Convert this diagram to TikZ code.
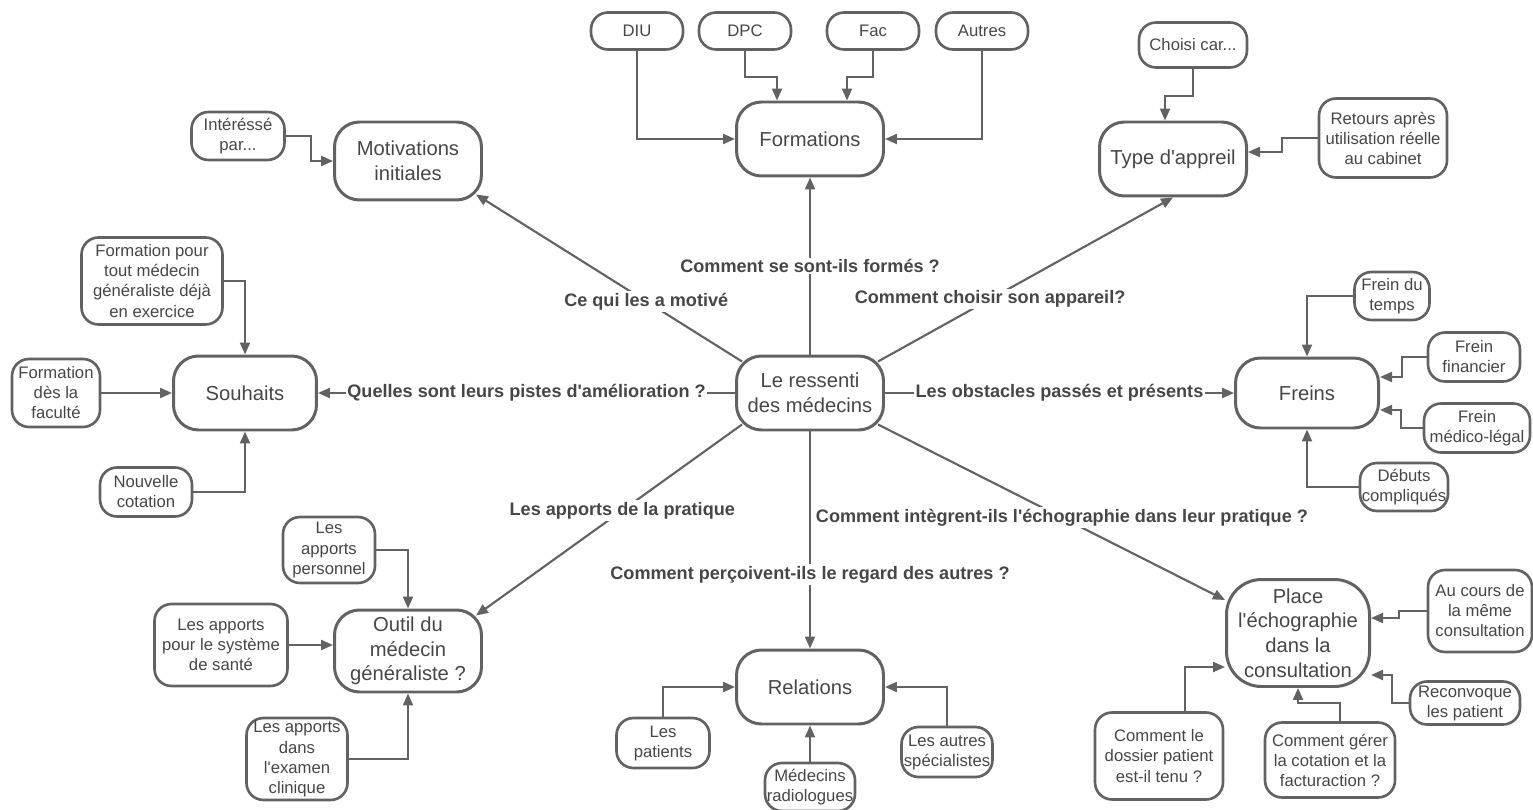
\documentclass[tikz,border=0pt]{standalone}
\usepackage{fontspec}
\setmainfont{Liberation Sans}
\usepackage{tikz}
\usetikzlibrary{arrows.meta, calc}

\definecolor{mapline}{HTML}{626262}
\definecolor{maptext}{HTML}{464646}

\tikzset{
  topic/.style={draw=mapline, line width=1.7pt, rounded corners=0.5cm, align=center, text=maptext,
    font=\fontsize{11.5}{14}\selectfont, minimum width=2.94cm, minimum height=1.48cm, inner sep=1pt},
  leaf/.style={draw=mapline, line width=1.5pt, rounded corners=0.34cm, align=center, text=maptext,
    font=\fontsize{9.5}{11.4}\selectfont, inner sep=0pt},
  link/.style={mapline, line width=1.2pt, -{Triangle[length=0.24cm,width=0.2cm]}},
  question/.style={fill=white, text=maptext, font=\bfseries\fontsize{10.3}{12}\selectfont, inner sep=1pt},
}

\begin{document}
\begin{tikzpicture}[x=0.02cm, y=-0.02cm]
        \useasboundingbox (0,0) rectangle (1533,810);

        \node[topic] (centre) at (810,393) {Le ressenti\\des médecins};
        \node[topic] (form) at (810,139) {Formations};
        \node[topic] (type) at (1173,159) {Type d\textquotesingle appreil};
        \node[topic, minimum height=1.56cm] (motiv) at (408,161) {Motivations\\initiales};
        \node[topic, minimum width=2.86cm] (souh) at (245,393) {Souhaits};
        \node[topic, minimum width=2.86cm, minimum height=1.4cm] (freins) at (1307,393) {Freins};
        \node[topic, minimum height=1.64cm] (outil) at (408,651) {Outil du\\médecin\\généraliste ?};
        \node[topic] (rel) at (810,687) {Relations};
        \node[topic, minimum width=2.86cm, minimum height=2.14cm, rounded corners=0.7cm] (place) at (1298,633) {Place\\l\textquotesingle échographie\\dans la\\consultation};

        \node[leaf, minimum width=1.84cm, minimum height=0.74cm] (diu) at (637,31) {DIU};
        \node[leaf, minimum width=1.84cm, minimum height=0.74cm] (dpc) at (745,31) {DPC};
        \node[leaf, minimum width=1.84cm, minimum height=0.74cm] (fac) at (873,31) {Fac};
        \node[leaf, minimum width=1.84cm, minimum height=0.74cm] (autres) at (982,31) {Autres};
        \node[leaf, minimum width=2.16cm, minimum height=0.9cm] (choisi) at (1193,45) {Choisi car...};
        \node[leaf, minimum width=2.56cm, minimum height=1.58cm] (retours) at (1383,138) {Retours après\\utilisation réelle\\au cabinet};
        \node[leaf, minimum width=1.86cm, minimum height=0.96cm] (interesse) at (238,136) {Intéréssé\\par...};
        \node[leaf, minimum width=2.82cm, minimum height=1.74cm] (fpt) at (152,281) {Formation pour\\tout médecin\\généraliste déjà\\en exercice};
        \node[leaf, minimum width=1.76cm, minimum height=1.36cm] (fdlf) at (56,393) {Formation\\dès la\\faculté};
        \node[leaf, minimum width=1.84cm, minimum height=0.98cm] (nouv) at (146,492) {Nouvelle\\cotation};
        \node[leaf, minimum width=1.5cm, minimum height=0.96cm] (fdt) at (1392,296) {Frein du\\temps};
        \node[leaf, minimum width=1.84cm, minimum height=0.98cm] (ffin) at (1474,357) {Frein\\financier};
        \node[leaf, minimum width=2.12cm, minimum height=0.98cm] (fml) at (1477,428) {Frein\\médico-légal};
        \node[leaf, minimum width=1.76cm, minimum height=0.96cm] (debuts) at (1404,487) {Débuts\\compliqués};
        \node[leaf, minimum width=1.84cm, minimum height=1.32cm] (apers) at (329,550) {Les\\apports\\personnel};
        \node[leaf, minimum width=2.66cm, minimum height=1.64cm] (asys) at (221,645) {Les apports\\pour le système\\de santé};
        \node[leaf, minimum width=2.02cm, minimum height=1.64cm] (aexam) at (297,759) {Les apports\\dans\\l\textquotesingle examen\\clinique};
        \node[leaf, minimum width=1.86cm, minimum height=1cm] (patients) at (663,743) {Les\\patients};
        \node[leaf, minimum width=1.8cm, minimum height=0.96cm] (radio) at (810,787) {Médecins\\radiologues};
        \node[leaf, minimum width=1.82cm, minimum height=1cm] (autresp) at (947,752) {Les autres\\spécialistes};
        \node[leaf, minimum width=2.08cm, minimum height=1.64cm] (cours) at (1480,611) {Au cours de\\la même\\consultation};
        \node[leaf, minimum width=2.2cm, minimum height=0.86cm] (reconv) at (1465,703) {Reconvoque\\les patient};
        \node[leaf, minimum width=2.6cm, minimum height=1.5cm] (gerer) at (1330,760) {Comment gérer\\la cotation et la\\facturaction ?};
        \node[leaf, minimum width=2.56cm, minimum height=1.74cm] (dossier) at (1159,756) {Comment le\\dossier patient\\est-il tenu ?};

        \path[link] (centre)
          edge node[question] {Comment se sont-ils formés ?} (form)
          edge node[question] {Quelles sont leurs pistes d\textquotesingle amélioration ?} (souh)
          edge node[question] {Les obstacles passés et présents} (freins)
          edge node[question, pos=0.66] {Comment perçoivent-ils le regard des autres ?} (rel);

        \path[link] ($(centre.north west)+(7,7)$)
          edge node[question, pos=0.36] {Ce qui les a motivé} ($(motiv.south east)+(-7,-7)$);
        \path[link] ($(centre.north east)+(-7,7)$)
          edge node[question, pos=0.38] {Comment choisir son appareil?} (type.south);
        \path[link] ($(centre.south west)+(7,-7)$)
          edge node[question, pos=0.45] {Les apports de la pratique} ($(outil.north east)+(-7,7)$);
        \path[link] ($(centre.south east)+(-7,-7)$)
          edge node[question, pos=0.53] {Comment intègrent-ils l\textquotesingle échographie dans leur pratique ?} ($(place.west)+(0,-33)$);

        \draw[link] (diu) |- (form);
        \draw[link] (dpc.south) -- ++(0,26) -| ($(form.north)+(-33,0)$);
        \draw[link] (fac.south) -- ++(0,26) -| ($(form.north)+(37,0)$);
        \draw[link] (autres) |- (form);

        \draw[link] (choisi.south) -- ++(0,27) -| ($(type.north)+(-8,0)$);
        \draw[link] (retours.west) -- ++(-36,0) |- ($(type.east)+(0,-7)$);

        \draw[link] (interesse.east) -- ++(25,0) |- (motiv.west);

        \draw[link] (fpt.east) -| (souh.north);
        \draw[link] (fdlf) -- (souh);
        \draw[link] (nouv.east) -| (souh.south);

        \draw[link] (fdt.west) -| (freins.north);
        \draw[link] (ffin.west) -- ++(-25,0) |- ($(freins.east)+(0,-16)$);
        \draw[link] (fml.west) -- ++(-22,0) |- ($(freins.east)+(0,17)$);
        \draw[link] (debuts.west) -| (freins.south);

        \draw[link] (apers.east) -| (outil.north);
        \draw[link] (asys.east) -- (asys.east -| outil.west);
        \draw[link] (aexam.east) -| (outil.south);

        \draw[link] (patients) |- (rel);
        \draw[link] (radio) -- (rel);
        \draw[link] (autresp) |- (rel);

        \draw[link] (cours.west) -- ++(-28,0) |- ($(place.east)+(0,-15)$);
        \draw[link] (reconv.west) -- ++(-17,0) |- ($(place.east)+(0,42)$);
        \draw[link] ($(gerer.north)+(10,0)$) -- ++(0,-18) -| (place.south);
        \draw[link] ($(dossier.north)+(26,0)$) |- ($(place.west)+(0,34)$);
\end{tikzpicture}
\end{document}
